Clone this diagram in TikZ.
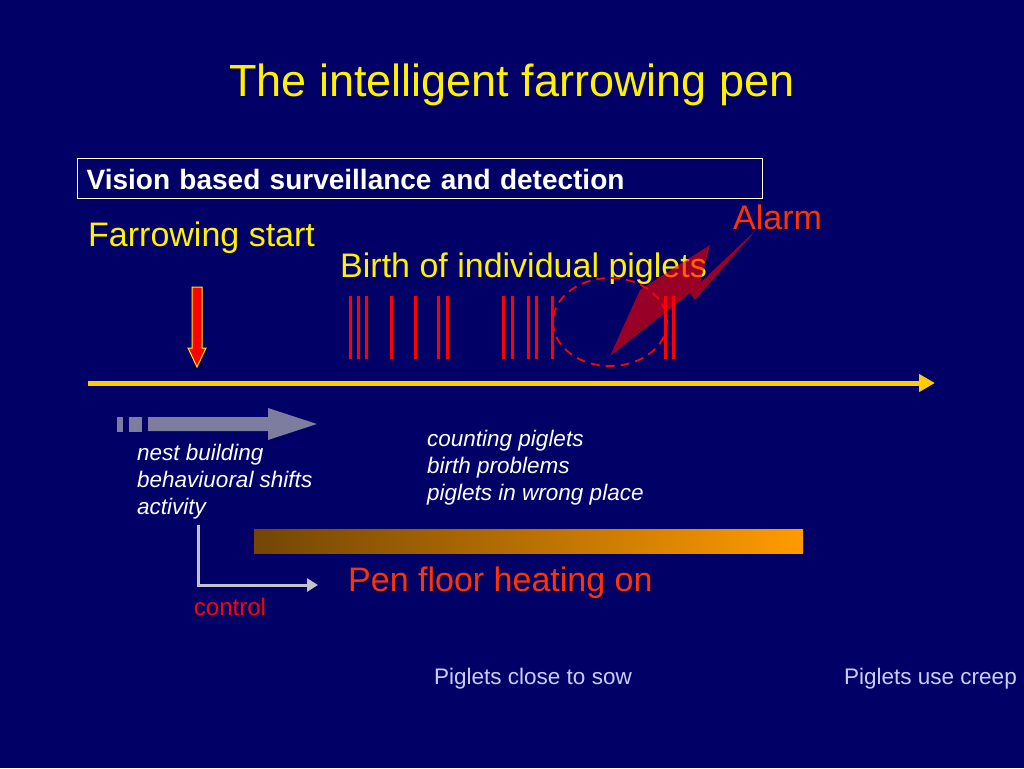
\documentclass[tikz,border=0pt]{standalone}
\usepackage{fontspec}
\setmainfont{Liberation Sans}
\usepackage{tikz}
\usetikzlibrary{arrows.meta}
\definecolor{bgblue}{RGB}{0,0,102}
\definecolor{alarmred}{RGB}{255,51,0}
\definecolor{gold}{RGB}{255,204,0}
\definecolor{shiftgray}{RGB}{125,125,160}
\definecolor{ctrlgray}{RGB}{195,195,200}
\definecolor{lav}{RGB}{204,204,255}
\definecolor{boxgray}{RGB}{180,180,210}
\definecolor{heatbrown}{RGB}{115,70,5}
\definecolor{heatmid}{RGB}{215,125,0}
\definecolor{heatorange}{RGB}{255,155,0}

\begin{document}
\begin{tikzpicture}[x=1pt, y=-1pt,
    big/.style={anchor=base west, inner sep=0pt, font=\fontsize{34}{41}\selectfont},
    note/.style={anchor=base west, inner sep=0pt, white, font=\itshape\fontsize{22.5}{27}\selectfont},
    small/.style={anchor=base west, inner sep=0pt, lav, font=\fontsize{22.5}{27}\selectfont}]
      \fill[bgblue] (0,0) rectangle (1024,768);
      \useasboundingbox (0,0) rectangle (1024,768);
      \node[anchor=base, inner sep=0pt, yellow, font=\fontsize{45}{54}\selectfont] (title) at (512,96)
        {The intelligent farrowing pen};
      \node[draw=boxgray, line width=1.2pt, anchor=north west, minimum width=685pt, minimum height=40pt,
        text width=667pt, inner xsep=9pt, text height=23pt, text depth=1pt, align=left, white,
        font=\bfseries\fontsize{28}{33}\selectfont]
        (vision) at (77,158) {Vision based surveillance and detection};
      \node[big, yellow] (start) at (88,246) {Farrowing start};
      \node[big, yellow] (birth) at (340,277) {Birth of individual piglets};
      % piglets born
      \foreach \bx in {350,358,366,391,415,438,447,503,512,528,536,552,665,673}
        \draw[red, line width=3pt] (\bx,296) -- (\bx,359);
      \draw[red, dashed, dash pattern=on 9pt off 6pt, line width=1.8pt] (610,322) ellipse [x radius=57, y radius=44];
      \fill[red, fill opacity=0.6] (610,356) -- (640,290) -- (710,245) -- (700,283) -- (757,229)
        -- (695,300) -- (690,293) -- cycle;
      \node[big, alarmred] (alarm) at (733,229) {Alarm};
      % start marker
      \fill[red, draw=yellow, line width=1pt] (192,287) -- (202,287) -- (202,348) -- (206,348)
        -- (197,367) -- (188,348) -- (192,348) -- cycle;
      % time line
      \coordinate (t0) at (88,383);
      \coordinate (t1) at (935,383);
      \draw[gold, line width=5pt, -{Triangle[length=16pt, width=17pt]}] (t0) -- (t1);
      % behaviour before farrowing
      \fill[shiftgray] (117,417) rectangle (123,432);
      \fill[shiftgray] (129,417) rectangle (142,432);
      \fill[shiftgray] (148,417) -- (268,417) -- (268,408) -- (317,424) -- (268,440) -- (268,431) -- (148,431) -- cycle;
      \node[note] (nest) at (137,460) {nest building};
      \node[note] (shifts) at (137,487) {behaviuoral shifts};
      \node[note] (activity) at (137,514) {activity};
      \node[note] (count) at (427,446) {counting piglets};
      \node[note] (problems) at (427,473) {birth problems};
      \node[note] (wrong) at (427,500) {piglets in wrong place};
      % heating
      \shade[left color=heatbrown, middle color=heatmid, right color=heatorange] (254,529) rectangle (803,553);
      \coordinate (c0) at (198,525);
      \coordinate (c1) at (318,585);
      \draw[ctrlgray, line width=3pt, -{Triangle[length=11pt, width=13pt]}] (c0) |- (c1);
      \node[anchor=base, inner sep=0pt, red, font=\fontsize{24}{29}\selectfont] (control) at (230,615) {control};
      \node[big, alarmred] (heat) at (348,591) {Pen floor heating on};
      \node[small] (close) at (434,684) {Piglets close to sow};
      \node[small] (creep) at (844,684) {Piglets use creep};
    \end{tikzpicture}
\end{document}
